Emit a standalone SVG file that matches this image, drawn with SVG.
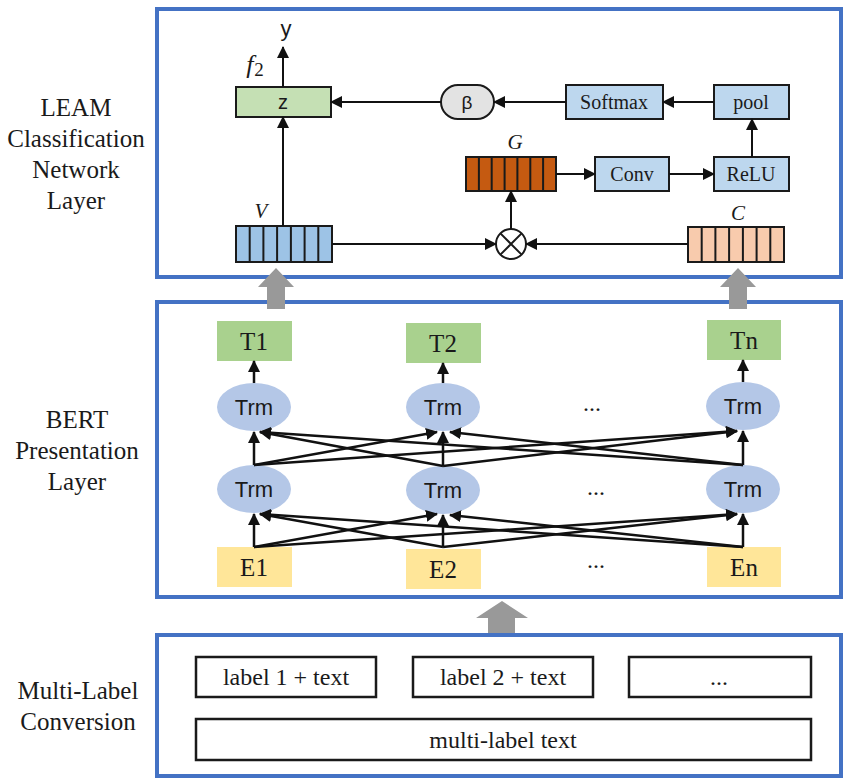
<svg xmlns="http://www.w3.org/2000/svg" width="844" height="778" viewBox="0 0 844 778">
<style>
.panel{fill:#fff;stroke:#4472C4;stroke-width:4}
.lbl{font-family:"Liberation Serif","Times New Roman",serif;font-size:25px;fill:#1a1a1a;text-anchor:middle}
.box{stroke:#1a1a1a;stroke-width:2}
.blue{fill:#BDD7EE}
.srf{font-family:"Liberation Serif","Times New Roman",serif;fill:#1a1a1a;text-anchor:middle}
.sans{font-family:"Liberation Sans",Arial,sans-serif;fill:#1a1a1a;text-anchor:middle}
.ital{font-family:"Liberation Serif","Times New Roman",serif;font-style:italic;fill:#1a1a1a;text-anchor:middle}
.cn{stroke:#111;stroke-width:2;fill:none;marker-end:url(#ah)}
.cb{stroke:#111;stroke-width:2.5;fill:none;marker-end:url(#ah)}
.trm{fill:#B4C7E7}
.gray{fill:#999}
.stripe{stroke:#1a1a1a;stroke-width:2}
</style>
<defs>
<marker id="ah" markerUnits="userSpaceOnUse" markerWidth="12" markerHeight="12" refX="11" refY="6" orient="auto" viewBox="0 0 12 12">
<path d="M0,0 L12,6 L0,12 z" fill="#111"/>
</marker>
</defs>

<!-- panels -->
<g id="panel-leam"><rect class="panel" x="157" y="9" width="684" height="268"/></g>
<g id="panel-bert"><rect class="panel" x="157" y="302" width="684" height="295"/></g>
<g id="panel-mlc"><rect class="panel" x="157" y="635" width="684" height="141"/></g>

<!-- side labels -->
<g id="label-leam">
<text class="lbl" x="76" y="116">LEAM</text>
<text class="lbl" x="76" y="147">Classification</text>
<text class="lbl" x="76" y="178">Network</text>
<text class="lbl" x="76" y="209">Layer</text>
</g>
<g id="label-bert">
<text class="lbl" x="77" y="428">BERT</text>
<text class="lbl" x="77" y="459">Presentation</text>
<text class="lbl" x="77" y="490">Layer</text>
</g>
<g id="label-mlc">
<text class="lbl" x="78" y="699">Multi-Label</text>
<text class="lbl" x="78" y="730">Conversion</text>
</g>

<!-- LEAM nodes -->
<g id="z"><rect class="box" x="236" y="87" width="95" height="30" fill="#C5E0B4"/><text class="sans" x="283" y="109" font-size="20">z</text></g>
<g id="y-out"><text class="sans" x="286" y="36" font-size="22">y</text></g>
<g id="f2"><text class="ital" x="255" y="73" font-size="26">f<tspan font-style="normal" font-size="19" dx="1" dy="3">2</tspan></text></g>
<g id="beta"><rect class="box" x="441" y="85" width="53" height="34" rx="17" fill="#E3E3E3"/><text class="sans" x="467" y="109" font-size="19">β</text></g>
<g id="softmax"><rect class="box blue" x="566" y="85" width="97" height="34"/><text class="srf" x="614" y="109" font-size="20">Softmax</text></g>
<g id="pool"><rect class="box blue" x="714" y="85" width="75" height="34"/><text class="srf" x="751" y="109" font-size="20">pool</text></g>
<g id="G">
<rect class="box" x="466" y="157" width="90" height="34" fill="#C55A11"/>
<path class="stripe" d="M478.9,157v34M491.7,157v34M504.6,157v34M517.4,157v34M530.3,157v34M543.1,157v34"/>
<text class="ital" x="515" y="149" font-size="21">G</text>
</g>
<g id="conv"><rect class="box blue" x="595" y="157" width="74" height="34"/><text class="srf" x="632" y="181" font-size="20">Conv</text></g>
<g id="relu"><rect class="box blue" x="714" y="157" width="75" height="34"/><text class="srf" x="751" y="181" font-size="20">ReLU</text></g>
<g id="V">
<rect class="box" x="236" y="226" width="96" height="36" fill="#9DC3E6"/>
<path class="stripe" d="M249.7,226v36M263.4,226v36M277.1,226v36M290.9,226v36M304.6,226v36M318.3,226v36"/>
<text class="ital" x="261" y="218" font-size="21">V</text>
</g>
<g id="C">
<rect class="box" x="688" y="227" width="96" height="35" fill="#F8CBAD"/>
<path class="stripe" d="M701.7,227v35M715.4,227v35M729.1,227v35M742.9,227v35M756.6,227v35M770.3,227v35"/>
<text class="ital" x="738" y="220" font-size="21">C</text>
</g>
<g id="otimes">
<circle cx="511" cy="244" r="15" fill="#fff" stroke="#1a1a1a" stroke-width="2"/>
<path d="M500.4,233.4L521.6,254.6M521.6,233.4L500.4,254.6" stroke="#1a1a1a" stroke-width="2"/>
</g>

<!-- BERT nodes -->
<g id="T1"><rect x="217" y="321" width="75" height="40" fill="#A9D18E"/><text class="srf" x="254" y="350" font-size="25">T1</text></g>
<g id="T2"><rect x="406" y="323" width="75" height="40" fill="#A9D18E"/><text class="srf" x="443" y="352" font-size="25">T2</text></g>
<g id="Tn"><rect x="707" y="320" width="74" height="40" fill="#A9D18E"/><text class="srf" x="744" y="349" font-size="25">Tn</text></g>
<g id="trm-top-1"><ellipse class="trm" cx="254" cy="407" rx="37" ry="24"/><text class="sans" x="254" y="415" font-size="22">Trm</text></g>
<g id="trm-top-2"><ellipse class="trm" cx="443" cy="407" rx="37" ry="24"/><text class="sans" x="443" y="415" font-size="22">Trm</text></g>
<g id="trm-top-n"><ellipse class="trm" cx="743" cy="406" rx="37" ry="24"/><text class="sans" x="743" y="414" font-size="22">Trm</text></g>
<g id="trm-bot-1"><ellipse class="trm" cx="254" cy="489" rx="37" ry="24"/><text class="sans" x="254" y="497" font-size="22">Trm</text></g>
<g id="trm-bot-2"><ellipse class="trm" cx="443" cy="490" rx="37" ry="24"/><text class="sans" x="443" y="498" font-size="22">Trm</text></g>
<g id="trm-bot-n"><ellipse class="trm" cx="743" cy="489" rx="37" ry="24"/><text class="sans" x="743" y="497" font-size="22">Trm</text></g>
<g id="E1"><rect x="217" y="547" width="75" height="40" fill="#FFE699"/><text class="srf" x="254" y="576" font-size="25">E1</text></g>
<g id="E2"><rect x="406" y="549" width="75" height="40" fill="#FFE699"/><text class="srf" x="443" y="578" font-size="25">E2</text></g>
<g id="En"><rect x="707" y="547" width="74" height="40" fill="#FFE699"/><text class="srf" x="744" y="576" font-size="25">En</text></g>
<g id="dots"><text class="srf" x="592" y="411" font-size="24">...</text><text class="srf" x="596" y="495" font-size="24">...</text><text class="srf" x="596" y="568" font-size="24">...</text></g>

<!-- Multi-label nodes -->
<g id="lt1"><rect x="196" y="657" width="180" height="40" fill="#fff" stroke="#1a1a1a" stroke-width="2.5"/><text class="srf" x="286" y="685" font-size="24">label 1 + text</text></g>
<g id="lt2"><rect x="413" y="657" width="180" height="40" fill="#fff" stroke="#1a1a1a" stroke-width="2.5"/><text class="srf" x="503" y="685" font-size="24">label 2 + text</text></g>
<g id="lt3"><rect x="629" y="657" width="182" height="40" fill="#fff" stroke="#1a1a1a" stroke-width="2.5"/><text class="srf" x="719" y="685" font-size="24">...</text></g>
<g id="mlt"><rect x="196" y="719" width="615" height="41" fill="#fff" stroke="#1a1a1a" stroke-width="2.5"/><text class="srf" x="503" y="748" font-size="24">multi-label text</text></g>

<!-- connectors -->
<g id="connectors">
<path class="cn" d="M283,226V117"/>
<path class="cn" d="M283,87V47"/>
<path class="cn" d="M441,102H331"/>
<path class="cn" d="M566,102H494"/>
<path class="cn" d="M714,102H663"/>
<path class="cn" d="M752,157V119"/>
<path class="cn" d="M556,174H595"/>
<path class="cn" d="M669,174H714"/>
<path class="cn" d="M511,229V191"/>
<path class="cn" d="M332,244H496"/>
<path class="cn" d="M688,244H526"/>

<path class="cb" d="M254,383V361"/>
<path class="cb" d="M443,383V363"/>
<path class="cb" d="M743,382V360"/>

<path class="cb" d="M254,547V514"/>
<path class="cb" d="M254,547L437,514"/>
<path class="cb" d="M254,547L737,514"/>
<path class="cb" d="M443,547L260,514"/>
<path class="cb" d="M443,547V515"/>
<path class="cb" d="M443,547L737,514"/>
<path class="cb" d="M743,547L260,514"/>
<path class="cb" d="M743,547L450,515"/>
<path class="cb" d="M743,547V514"/>

<path class="cb" d="M254,465V432"/>
<path class="cb" d="M254,465L437,432"/>
<path class="cb" d="M254,465L737,431"/>
<path class="cb" d="M443,466L260,432"/>
<path class="cb" d="M443,466V432"/>
<path class="cb" d="M443,466L737,431"/>
<path class="cb" d="M743,465L260,432"/>
<path class="cb" d="M743,465L450,432"/>
<path class="cb" d="M743,465V431"/>
</g>

<!-- big gray arrows -->
<g id="up-arrows">
<polygon class="gray" points="276,268 294,287 285,287 285,309 267,309 267,287 258,287"/>
<polygon class="gray" points="738,268 756,287 747,287 747,309 729,309 729,287 720,287"/>
<polygon class="gray" points="502,601 528,618 515,618 515,633 488,633 488,618 476,618"/>
</g>
</svg>
